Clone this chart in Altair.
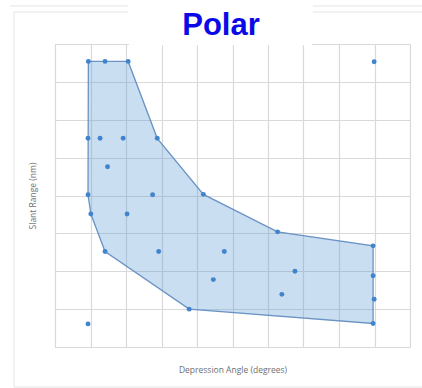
import altair as alt
import pandas as pd

# Outline of the coverage envelope (clockwise)
hull_angle = [0.94, 2.06, 2.88, 4.18, 6.27, 8.96, 8.96, 3.78, 1.41, 1.01, 0.93]
hull_range = [7.54, 7.54, 5.51, 4.03, 3.04, 2.67, 0.62, 1.00, 2.52, 3.51, 4.02]

# Measured detections
point_angle = [0.94, 1.41, 2.06, 0.93, 1.27, 1.92, 2.88, 1.48, 0.93, 2.75, 1.01,
               2.03, 1.41, 2.92, 0.93, 4.18, 6.27, 8.96, 4.77, 6.76, 8.96, 4.46,
               6.39, 8.99, 3.78, 8.96, 8.99]
point_range = [7.54, 7.54, 7.54, 5.51, 5.51, 5.51, 5.51, 4.76, 4.02, 4.02, 3.51,
               3.51, 2.52, 2.52, 0.61, 4.03, 3.04, 2.67, 2.52, 2.00, 1.88, 1.78,
               1.39, 1.26, 1.00, 0.62, 7.53]

x_ticks = list(range(0, 11))
y_ticks = list(range(0, 9))

chart_title = "Polar"

hull = pd.DataFrame({"angle": hull_angle, "range": hull_range,
                     "order": list(range(len(hull_angle)))})
pts = pd.DataFrame({"angle": point_angle, "range": point_range})

axis_style = dict(labels=False, ticks=False, domain=False, labelOverlap=False,
                  grid=True, gridColor="#d9d9d9", gridWidth=1.2,
                  titlePadding=18, titleFont="Open Sans", titleFontSize=8.5,
                  titleFontWeight="normal", titleColor="#707070")

x_enc = alt.X("angle:Q", scale=alt.Scale(domain=[0, 10], nice=False),
              axis=alt.Axis(values=x_ticks, tickCount=len(x_ticks),
                            title="Depression Angle (degrees)", **axis_style))
y_enc = alt.Y("range:Q", scale=alt.Scale(domain=[0, 8], nice=False),
              axis=alt.Axis(values=y_ticks, tickCount=len(y_ticks),
                            title="Slant Range (nm)", **axis_style))

envelope = alt.Chart(hull).mark_line(
    interpolate="linear-closed", fill="#5b9bd5", fillOpacity=0.33,
    stroke="#6a93c4", strokeWidth=1.3
).encode(x=x_enc, y=y_enc, order="order:Q")

dots = alt.Chart(pts).mark_circle(size=24, color="#3f84cc", opacity=1).encode(
    x=x_enc, y=y_enc)

one = pd.DataFrame({"k": [0]})


def frame_line(x1, x2, y1, y2, color="#e4e4e4", width=1):
    return alt.Chart(one).mark_rule(color=color, strokeWidth=width).encode(
        x=alt.value(x1), x2=alt.value(x2), y=alt.value(y1), y2=alt.value(y2))


frame = [
    frame_line(-41, -41, -32, 343),
    frame_line(-41, 73, -32, -32),
    frame_line(258, 367, -32, -32),
    frame_line(-45, 73, -38, -38),
    frame_line(258, 367, -38, -38),
    frame_line(-41, 367, 343, 343),
    # white band behind the heading covers the top border there
    frame_line(74, 257, 0, 0, color="white", width=2.5),
]

# Heading drawn as a text mark just above the plot area
heading = alt.Chart(one).mark_text(
    text=chart_title, font="Liberation Sans", fontSize=31, fontWeight="bold",
    color="#0a0ae8", align="center", baseline="alphabetic"
).encode(x=alt.value(166), y=alt.value(-9))

chart = alt.layer(envelope, dots, *frame, heading).properties(
    width=355, height=303,
    autosize=alt.AutoSizeParams(type="none"),
    padding={"left": 55, "top": 44, "right": 12, "bottom": 41},
).configure_view(stroke=None).configure(background="white")

chart.save("out.html", embed_options={"renderer": "svg", "actions": False})
